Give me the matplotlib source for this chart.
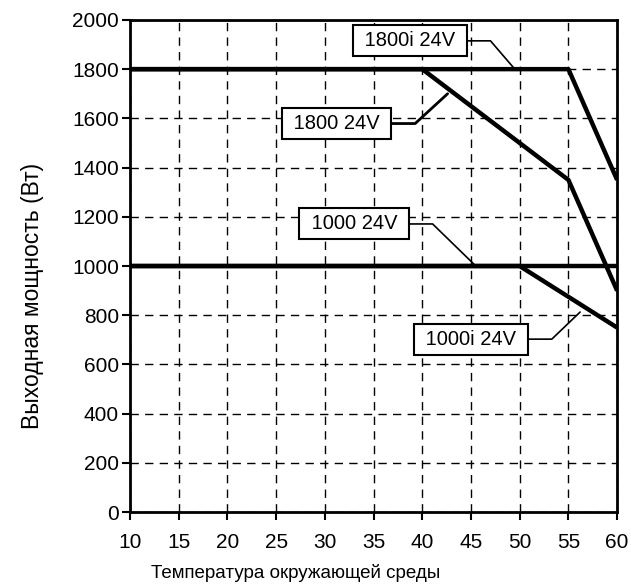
import matplotlib
matplotlib.use("Agg")
import matplotlib.pyplot as plt

plt.rcParams['font.family'] = ['Liberation Sans', 'DejaVu Sans']

# derating curves (ambient temperature, output power)
t_1800i = [10, 55, 60]
p_1800i = [1800, 1800, 1350]
t_1800 = [10, 40, 55, 60]
p_1800 = [1800, 1800, 1350, 900]
t_1000 = [10, 60]
p_1000 = [1000, 1000]
t_1000i = [10, 50, 60]
p_1000i = [1000, 1000, 750]

x_ticks = list(range(10, 61, 5))
y_ticks = list(range(0, 2001, 200))

# label text, box centre, point the leader goes to, leader width
labels = [
    (" 1800i 24V ", (38.7, 1915), (49.5, 1800), 1.2),
    (" 1800 24V ", (31.2, 1579), (42.6, 1700), 2.0),
    (" 1000 24V ", (33.0, 1171), (45.5, 1000), 1.2),
    (" 1000i 24V ", (45.0, 703), (56.2, 813), 1.2),
]

fig = plt.figure(figsize=(6.31, 5.86), dpi=100)
ax = fig.add_axes([0.206, 0.126, 0.772, 0.840])

for t, p in [(t_1800i, p_1800i), (t_1800, p_1800), (t_1000, p_1000), (t_1000i, p_1000i)]:
    ax.plot(t, p, color="black", lw=3.2, solid_capstyle="butt", zorder=3)

ax.set_xlim(10, 60)
ax.set_ylim(0, 2000)
ax.set_xticks(x_ticks)
ax.set_yticks(y_ticks)
ax.grid(True, color="black", lw=1.0, linestyle=(0, (6, 4.5)))
ax.set_axisbelow(True)

for s in ax.spines.values():
    s.set_linewidth(2.0)
    s.set_zorder(4)

ax.tick_params(axis="both", direction="out", length=6, width=1.5, labelsize=15)
ax.tick_params(axis="x", pad=9)
ax.tick_params(axis="y", pad=2)

ax.set_xlabel("Температура окружающей среды", fontsize=13.5, labelpad=9, x=0.34)
ax.set_ylabel("Выходная мощность (Вт)", fontsize=16.5, labelpad=20, y=0.44)

for text, xytext, xy, lw in labels:
    ax.annotate(text, xy=xy, xytext=xytext, textcoords="data",
                ha="center", va="center", fontsize=14.5, zorder=5,
                bbox=dict(boxstyle="square,pad=0.3", fc="white", ec="black", lw=1.5),
                arrowprops=dict(arrowstyle="-", color="black", lw=lw, relpos=(1, 0.5),
                                shrinkA=0, shrinkB=0,
                                connectionstyle="arc,angleA=0,armA=30,angleB=0,armB=0,rad=0"))

fig.savefig("out.png", dpi=100)
